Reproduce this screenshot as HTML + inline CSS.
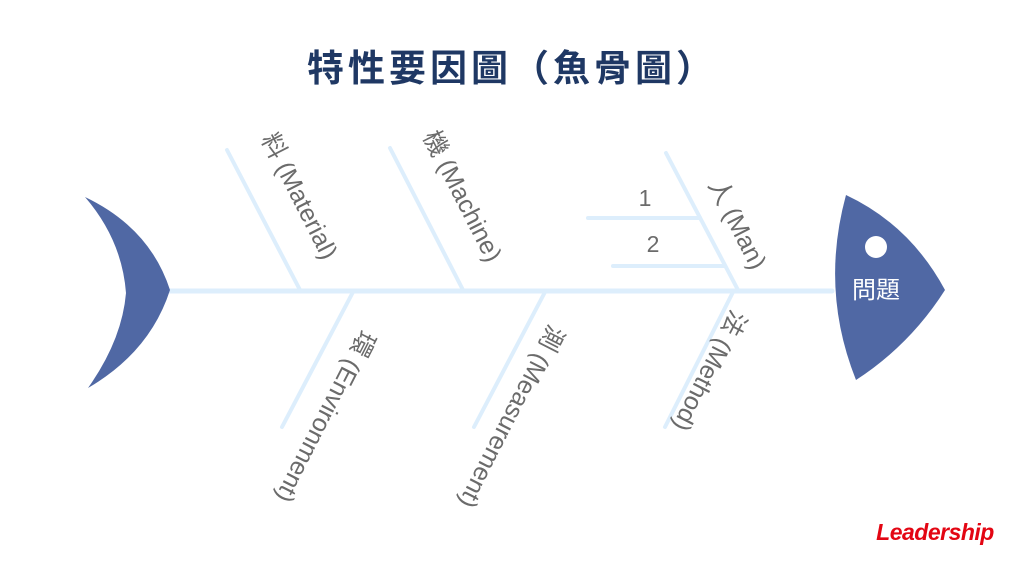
<!DOCTYPE html>
<html><head><meta charset="utf-8"><style>
html,body{margin:0;padding:0;background:#fff;}
svg{display:block;}
text{font-family:"Liberation Sans","Noto Sans CJK TC",sans-serif;}
</style></head><body>
<svg width="1024" height="576" viewBox="0 0 1024 576" xmlns="http://www.w3.org/2000/svg">
<text x="512" y="81" text-anchor="middle" font-size="37" font-weight="bold" fill="#1f3864" letter-spacing="4">特性要因圖（魚骨圖）</text>
<g stroke="#ddeefc" stroke-width="4" fill="none" stroke-linecap="round">
<line x1="170" y1="291" x2="832" y2="291" stroke-width="5"/>
<line x1="227" y1="150" x2="300" y2="290"/>
<line x1="390" y1="148" x2="463" y2="290"/>
<line x1="666" y1="153" x2="738" y2="290"/>
<line x1="588" y1="218" x2="700" y2="218"/>
<line x1="613" y1="266" x2="725" y2="266"/>
<line x1="353" y1="292" x2="282" y2="427"/>
<line x1="545" y1="292" x2="474" y2="427"/>
<line x1="733" y1="292" x2="665" y2="427"/>
</g>
<path d="M85,197 Q150,228 170,290 Q150,352 88,388 Q122,340 126,293 Q122,240 85,197 Z" fill="#5068a4"/>
<path d="M846,195 Q910,225 945,290 Q910,345 856,380 Q820,290 846,195 Z" fill="#5068a4"/>
<circle cx="876" cy="247" r="11" fill="#fff"/>
<text x="876" y="298" text-anchor="middle" font-size="24" fill="#fff">問題</text>
<g font-size="25" fill="#6b6b6b">
<text x="292" y="200" text-anchor="middle" transform="rotate(63 292 200)">料 (Material)</text>
<text x="455" y="200" text-anchor="middle" transform="rotate(63 455 200)">機 (Machine)</text>
<text x="730" y="228" text-anchor="middle" transform="rotate(63 730 228)">人 (Man)</text>
<text x="318" y="413" text-anchor="middle" transform="rotate(117 318 413)">環 (Environment)</text>
<text x="504" y="413" text-anchor="middle" transform="rotate(117 504 413)">測 (Measurement)</text>
<text x="702" y="367" text-anchor="middle" transform="rotate(117 702 367)">法 (Method)</text>
</g>
<g font-size="23" fill="#6b6b6b">
<text x="645" y="206" text-anchor="middle">1</text>
<text x="653" y="252" text-anchor="middle">2</text>
</g>
<text x="935" y="540" text-anchor="middle" font-size="23" font-weight="bold" font-style="italic" fill="#e30613" letter-spacing="-0.5">Leadership</text>
</svg>
</body></html>
